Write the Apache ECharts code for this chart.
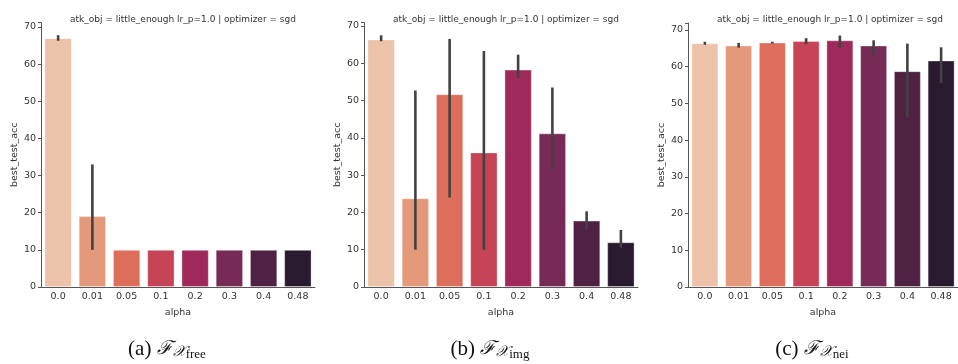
<!DOCTYPE html>
<html>
<head>
<meta charset="utf-8">
<script src="https://cdn.jsdelivr.net/npm/echarts@6/dist/echarts.min.js"></script>
<style>
  html, body { margin: 0; padding: 0; background: #fff; }
  #main { width: 958px; height: 364px; }
</style>
</head>
<body>
<div id="main"></div>
<script>
// alpha categories (shared by the three panels)
var alphas = ["0.0", "0.01", "0.05", "0.1", "0.2", "0.3", "0.4", "0.48"];

// (a) free
var freeMean = [67.0, 19.1, 10, 10, 10, 10, 10, 10];
var freeLow  = [66.3, 10, 10, 10, 10, 10, 10, 10];
var freeHigh = [67.8, 33.0, 10, 10, 10, 10, 10, 10];

// (b) img
var imgMean = [66.4, 23.8, 51.7, 36.1, 58.3, 41.2, 17.8, 12.0];
var imgLow  = [65.9, 10.0, 24.0, 10.0, 56.0, 31.5, 15.5, 10.5];
var imgHigh = [67.5, 52.7, 66.5, 63.3, 62.3, 53.5, 20.3, 15.3];

// (c) nei
var neiMean = [66.4, 65.8, 66.6, 67.0, 67.2, 65.8, 58.8, 61.7];
var neiLow  = [66.0, 65.2, 66.3, 66.2, 65.1, 63.3, 46.3, 55.5];
var neiHigh = [66.8, 66.5, 66.8, 67.8, 68.5, 67.2, 66.3, 65.3];

var yTicks = [0, 10, 20, 30, 40, 50, 60, 70];
var yMax = [71.2, 70.9, 71.9];

// rocket_r (desaturated like seaborn)
var colors = ["#ecc2a9", "#e49a7a", "#dc6e5b", "#c74356", "#a0295c", "#772a56", "#4f2244", "#2a1a2f"];

var panelTitle = "atk_obj = little_enough lr_p=1.0 | optimizer = sgd";
var captions = [["(a) ", "free"], ["(b) ", "img"], ["(c) ", "nei"]];

var panels = [
  { mean: freeMean, low: freeLow, high: freeHigh, left: 41, px: 3.714, cx: 162 },
  { mean: imgMean, low: imgLow, high: imgHigh, left: 364, px: 3.729, cx: 485 },
  { mean: neiMean, low: neiLow, high: neiHigh, left: 688, px: 3.671, cx: 807 }
];
var gridW = 274;
var axisBottom = 287;

var grids = [], xAxes = [], yAxes = [], series = [], titles = [];

panels.forEach(function (p, i) {
  var top = axisBottom - yMax[i] * p.px;
  grids.push({ left: p.left, top: top, width: gridW, height: axisBottom - top });

  xAxes.push({
    type: "category",
    gridIndex: i,
    data: alphas,
    name: "alpha",
    nameLocation: "middle",
    nameGap: 21,
    nameTextStyle: { fontFamily: "DejaVu Sans", fontSize: 9.5, color: "#333" },
    axisLine: { lineStyle: { color: "#555", width: 1 } },
    axisTick: { alignWithLabel: true, length: 3, lineStyle: { color: "#555" } },
    axisLabel: { fontFamily: "DejaVu Sans", fontSize: 9.5, color: "#333", margin: 5 },
    splitLine: { show: false }
  });

  yAxes.push({
    type: "value",
    gridIndex: i,
    min: 0,
    max: yMax[i],
    interval: 10,
    name: "best_test_acc",
    nameLocation: "middle",
    nameGap: 21,
    nameTextStyle: { fontFamily: "DejaVu Sans", fontSize: 9.5, color: "#333" },
    axisLine: { show: true, lineStyle: { color: "#555", width: 1 } },
    axisTick: { show: true, length: 3, lineStyle: { color: "#555" } },
    axisLabel: {
      fontFamily: "DejaVu Sans", fontSize: 9.5, color: "#333", margin: 5,
      formatter: function (v) { return yTicks.indexOf(v) >= 0 ? String(v) : ""; }
    },
    splitLine: { show: false }
  });

  series.push({
    type: "bar",
    xAxisIndex: i,
    yAxisIndex: i,
    barCategoryGap: "20%",
    data: p.mean.map(function (v, k) {
      return { value: v, itemStyle: { color: colors[k] } };
    }),
    itemStyle: { borderColor: "rgba(255,255,255,0.35)", borderWidth: 1 },
    silent: true
  });

  // confidence interval lines
  series.push({
    type: "custom",
    xAxisIndex: i,
    yAxisIndex: i,
    z: 5,
    silent: true,
    data: p.low.map(function (lo, k) { return [k, lo, p.high[k]]; }),
    renderItem: function (params, api) {
      var lo = api.value(1), hi = api.value(2);
      if (hi - lo < 0.01) return null;
      var a = api.coord([api.value(0), lo]);
      var b = api.coord([api.value(0), hi]);
      return {
        type: "line",
        shape: { x1: a[0], y1: a[1], x2: b[0], y2: b[1] },
        style: { stroke: "#424242", lineWidth: 2.6 }
      };
    }
  });

  titles.push({
    text: panelTitle,
    left: p.left + gridW / 2,
    top: 10,
    textAlign: "center",
    textStyle: { fontFamily: "DejaVu Sans", fontSize: 9, fontWeight: "normal", color: "#333" }
  });

  titles.push({
    text: "{a|" + captions[i][0] + "}{f|\u2131}{x|\uD835\uDCB3}{s|" + captions[i][1] + "}",
    left: p.cx,
    top: 333,
    textAlign: "center",
    textStyle: {
      fontWeight: "normal",
      rich: {
        a: { fontFamily: "Liberation Serif", fontWeight: "normal", fontSize: 21, color: "#111" },
        f: { fontFamily: "DejaVu Serif", fontWeight: "normal", fontStyle: "italic", fontSize: 19, color: "#111" },
        x: { fontFamily: "DejaVu Serif", fontWeight: "normal", fontStyle: "italic", fontSize: 15, color: "#111", padding: [6, 0, 0, 0] },
        s: { fontFamily: "Liberation Serif", fontWeight: "normal", fontSize: 13, color: "#111", padding: [10, 0, 0, 0] }
      }
    }
  });
});

var myChart = echarts.init(document.getElementById("main"), null, { renderer: "canvas" });
myChart.setOption({
  animation: false,
  backgroundColor: "#fff",
  title: titles,
  grid: grids,
  xAxis: xAxes,
  yAxis: yAxes,
  series: series
});
</script>
</body>
</html>
